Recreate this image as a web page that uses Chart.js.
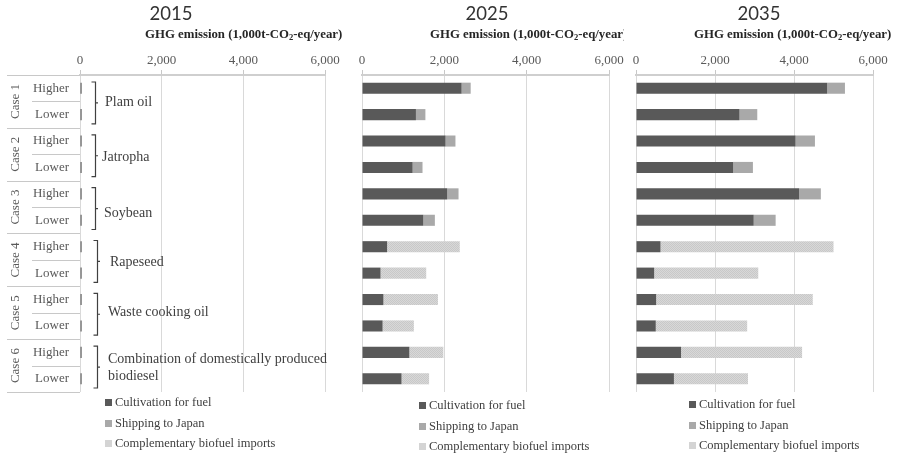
<!DOCTYPE html>
<html>
<head>
<meta charset="utf-8">
<script src="https://cdn.jsdelivr.net/npm/chart.js@4.4.1/dist/chart.umd.min.js"></script>
<style>
  body { margin: 0; background: #fff; }
  #wrap { position: relative; width: 898px; height: 458px; overflow: hidden; font-family: "Liberation Serif", serif; }
  canvas { position: absolute; left: 0; top: 0; }
  .yr { position: absolute; top: 2px; font-family: Lato, "Open Sans", sans-serif; font-size: 18.5px; color: #333; transform: translateX(-50%); }
  .ax { position: absolute; top: 27px; height: 18px; font-family: "Liberation Serif", serif; font-weight: bold; font-size: 12.8px; color: #262626; white-space: nowrap; overflow: hidden; }
  .ax sub { font-size: 8.5px; vertical-align: -2px; }
  .note { position: absolute; font-family: "Liberation Serif", serif; font-size: 14px; line-height: 17px; color: #404040; white-space: nowrap; }
  .leg { position: absolute; font-family: "Liberation Serif", serif; font-size: 12.5px; color: #404040; white-space: nowrap; }
  .leg div { height: 20.5px; line-height: 20.5px; }
  .leg i { display: inline-block; width: 7px; height: 7px; margin-right: 3px; vertical-align: 0px; }
</style>
</head>
<body>
<div id="wrap">
  <canvas id="c2015" width="898" height="458"></canvas>
  <canvas id="c2025" width="898" height="458"></canvas>
  <canvas id="c2035" width="898" height="458"></canvas>
</div>
<script>
// rows (top to bottom) and case groups
const rowLabels = ['Higher', 'Lower', 'Higher', 'Lower', 'Higher', 'Lower',
                   'Higher', 'Lower', 'Higher', 'Lower', 'Higher', 'Lower'];
const caseLabels = ['Case 1', 'Case 2', 'Case 3', 'Case 4', 'Case 5', 'Case 6'];
const feedstocks = [['Plam oil'], ['Jatropha'], ['Soybean'], ['Rapeseed'],
                    ['Waste cooking oil'], ['Combination of domestically produced', 'biodiesel']];
const seriesNames = ['Cultivation for fuel', 'Shipping to Japan', 'Complementary biofuel imports'];
const years = ['2015', '2025', '2035'];
const xTicks = [0, 2000, 4000, 6000];
const axisTitle = 'GHG emission (1,000t-CO<sub>2</sub>-eq/year)';

// GHG emission, 1,000t-CO2-eq/year
const cult2015 = [40, 40, 40, 40, 40, 40, 40, 40, 40, 40, 40, 40];
const ship2015 = [0, 0, 0, 0, 0, 0, 0, 0, 0, 0, 0, 0];
const imp2015  = [0, 0, 0, 0, 0, 0, 0, 0, 0, 0, 0, 0];

const cult2025 = [2420, 1310, 2030, 1230, 2070, 1490, 610, 450, 520, 500, 1150, 960];
const ship2025 = [220, 230, 240, 240, 275, 280, 0, 0, 0, 0, 0, 0];
const imp2025  = [0, 0, 0, 0, 0, 0, 1765, 1110, 1325, 760, 825, 670];

const cult2035 = [4840, 2620, 4040, 2460, 4130, 2980, 620, 460, 510, 500, 1140, 960];
const ship2035 = [450, 450, 490, 500, 550, 555, 0, 0, 0, 0, 0, 0];
const imp2035  = [0, 0, 0, 0, 0, 0, 4380, 2635, 3965, 2315, 3065, 1875];

const colors = ['#595959', '#a9a9a9', '#d2d2d2'];

// dotted fill like the original imports bars
function importPattern() {
  const p = document.createElement('canvas');
  p.width = 2; p.height = 2;
  const g = p.getContext('2d');
  g.fillStyle = '#d8d8d8';
  g.fillRect(0, 0, 2, 2);
  g.fillStyle = '#c8c8c8';
  g.fillRect(0, 0, 1, 1);
  g.fillRect(1, 1, 1, 1);
  return g.createPattern(p, 'repeat');
}
const impFill = importPattern();

const serif = 'Liberation Serif';

// category table, case labels and brackets on the left of the 2015 panel
const tablePlugin = {
  id: 'caseTable',
  afterDraw(chart) {
    const { ctx, chartArea } = chart;
    const y = chart.scales.y;
    const rowH = (chartArea.bottom - chartArea.top) / rowLabels.length;
    ctx.save();
    ctx.strokeStyle = '#c8c8c8';
    ctx.lineWidth = 1;
    ctx.beginPath();
    for (let c = 0; c <= caseLabels.length; c++) {
      const yy = Math.round(y.getPixelForValue(c * 2) - rowH / 2) + 0.5;
      ctx.moveTo(7, yy); ctx.lineTo(chartArea.left, yy);
      if (c < caseLabels.length) {
        const ym = Math.round(y.getPixelForValue(c * 2 + 1) - rowH / 2) + 0.5;
        ctx.moveTo(32, ym); ctx.lineTo(chartArea.left, ym);
      }
    }
    ctx.stroke();

    ctx.fillStyle = '#595959';
    ctx.font = '13px "' + serif + '"';
    ctx.textAlign = 'center';
    ctx.textBaseline = 'middle';
    caseLabels.forEach((lab, c) => {
      const yc = y.getPixelForValue(c * 2 + 0.5);
      ctx.save();
      ctx.translate(16, yc);
      ctx.rotate(-Math.PI / 2);
      ctx.fillText(lab, 0, 0);
      ctx.restore();
    });

    // brackets
    ctx.strokeStyle = '#404040';
    ctx.lineWidth = 1.2;
    caseLabels.forEach((lab, c) => {
      const top = y.getPixelForValue(c * 2) - rowH / 2 + 7;
      const bot = y.getPixelForValue(c * 2 + 1) + rowH / 2 - 4;
      const bx = c < 3 ? 95.5 : 97.5;
      const mid = (top + bot) / 2;
      ctx.beginPath();
      ctx.moveTo(bx - 4, top); ctx.lineTo(bx, top); ctx.lineTo(bx, bot); ctx.lineTo(bx - 4, bot);
      ctx.moveTo(bx, mid); ctx.lineTo(bx + 2.5, mid);
      ctx.stroke();
    });
    ctx.restore();
  }
};

function makePanel(id, cult, ship, imp, pad, withTable) {
  const ctx = document.getElementById(id).getContext('2d');
  return new Chart(ctx, {
    type: 'bar',
    data: {
      labels: rowLabels,
      datasets: [
        { label: seriesNames[0], data: cult, backgroundColor: colors[0] },
        { label: seriesNames[1], data: ship, backgroundColor: colors[1] },
        { label: seriesNames[2], data: imp, backgroundColor: impFill },
      ],
    },
    options: {
      indexAxis: 'y',
      responsive: false,
      animation: false,
      layout: { padding: pad },
      datasets: { bar: { categoryPercentage: 1, barPercentage: 0.42 } },
      plugins: { legend: { display: false }, tooltip: { enabled: false } },
      scales: {
        x: {
          position: 'top',
          stacked: true,
          min: 0,
          max: 6000,
          afterBuildTicks: s => { s.ticks = xTicks.map(v => ({ value: v })); },
          afterFit: s => { s.height = 25; },
          ticks: {
            padding: 2,
            color: '#595959',
            font: { family: serif, size: 13 },
            maxRotation: 0,
            callback: v => v.toLocaleString('en-US'),
          },
          grid: { color: '#d9d9d9', lineWidth: 1, tickLength: 5, tickColor: '#c8c8c8' },
          border: { display: true, color: '#cfcfcf', width: 2 },
        },
        y: {
          stacked: true,
          display: withTable,
          afterFit: s => { s.width = withTable ? 80 : 0; },
          ticks: {
            padding: 11,
            color: '#595959',
            font: { family: serif, size: 13 },
          },
          grid: { display: false, drawTicks: false },
          border: { display: false },
        },
      },
    },
    plugins: withTable ? [tablePlugin] : [],
  });
}

makePanel('c2015', cult2015, ship2015, imp2015, { left: 0, right: 573, top: 50, bottom: 66 }, true);
makePanel('c2025', cult2025, ship2025, imp2025, { left: 362, right: 289, top: 50, bottom: 66 }, false);
makePanel('c2035', cult2035, ship2035, imp2035, { left: 636, right: 25, top: 50, bottom: 66 }, false);

// titles, axis titles, feedstock notes and legends
const wrap = document.getElementById('wrap');
function add(cls, html, style) {
  const d = document.createElement('div');
  d.className = cls;
  d.innerHTML = html;
  Object.assign(d.style, style);
  wrap.appendChild(d);
  return d;
}
const yearX = [171, 487, 759];
years.forEach((yr, i) => add('yr', yr, { left: yearX[i] + 'px' }));

const axLeft = [145, 430, 694];
const axWidth = [260, 194, 204];
axLeft.forEach((x, i) => add('ax', axisTitle, { left: x + 'px', width: axWidth[i] + 'px' }));

const noteLeft = [105, 102, 104, 110, 108, 108];
const noteTop = [93, 148, 204, 253, 303, 350];
feedstocks.forEach((lines, i) => add('note', lines.join('<br>'), { left: noteLeft[i] + 'px', top: noteTop[i] + 'px' }));

const legLeft = [105, 419, 689];
const legTop = [392, 395, 394];
legLeft.forEach((x, i) => {
  const html = seriesNames.map((n, k) =>
    '<div><i style="background:' + (k === 2 ? '#d4d4d4' : colors[k]) + '"></i>' + n + '</div>').join('');
  add('leg', html, { left: x + 'px', top: legTop[i] + 'px' });
});
</script>
</body>
</html>
